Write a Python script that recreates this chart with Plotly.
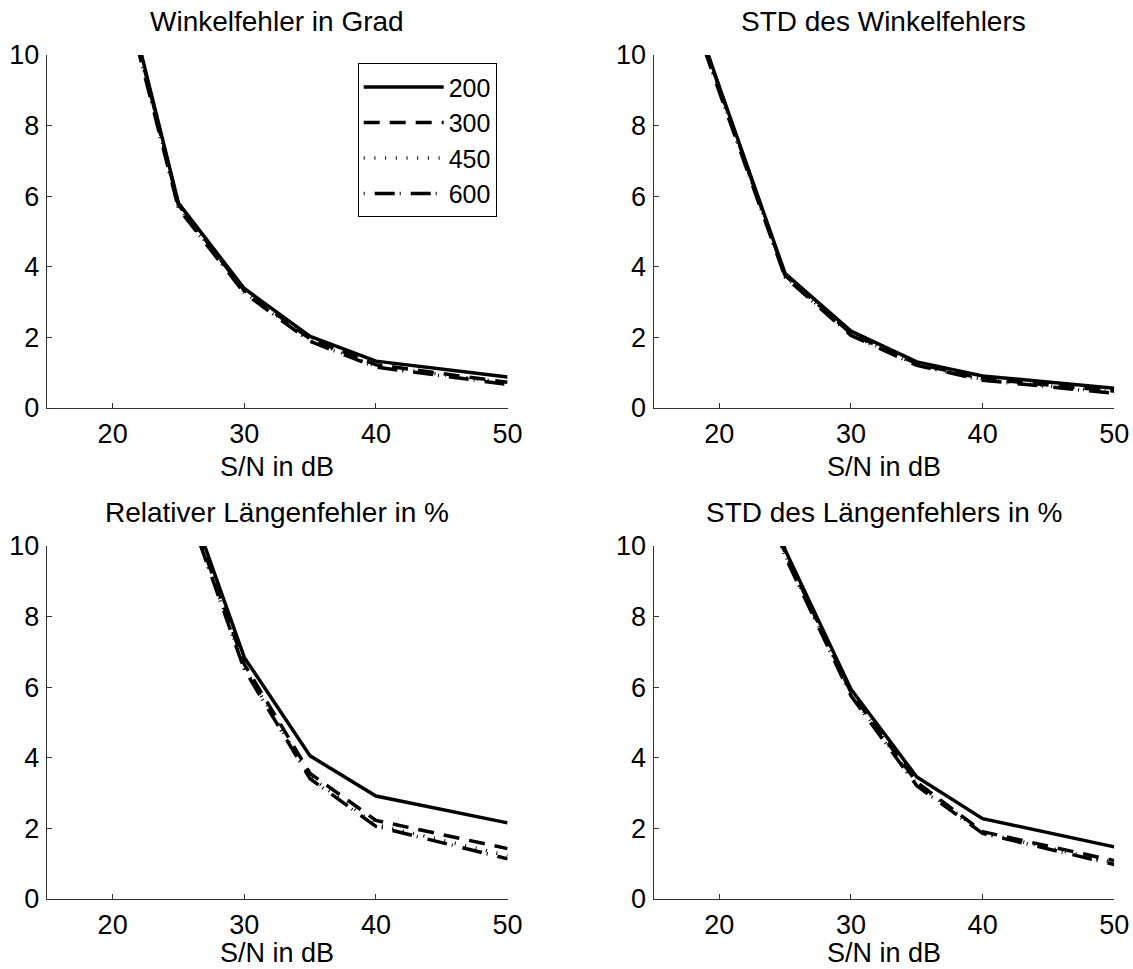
import plotly.graph_objects as go

# ---- data ----
snr = [15, 20, 25, 30, 35, 40, 50]
labels = ["200", "300", "450", "600"]

winkel = {
    "200": [22.0, 13.3, 5.80, 3.38, 2.02, 1.32, 0.87],
    "300": [21.8, 13.2, 5.75, 3.32, 1.95, 1.22, 0.72],
    "450": [21.7, 13.1, 5.70, 3.28, 1.90, 1.18, 0.70],
    "600": [21.6, 13.0, 5.65, 3.25, 1.88, 1.15, 0.66],
}
std_winkel = {
    "200": [14.5, 9.10, 3.80, 2.17, 1.30, 0.90, 0.55],
    "300": [14.4, 9.05, 3.75, 2.10, 1.25, 0.82, 0.47],
    "450": [14.4, 9.00, 3.72, 2.08, 1.22, 0.80, 0.44],
    "600": [14.3, 8.95, 3.70, 2.05, 1.20, 0.78, 0.41],
}
laenge = {
    "200": [28.0, 20.0, 12.1, 6.84, 4.05, 2.91, 2.15],
    "300": [27.5, 19.7, 11.9, 6.65, 3.55, 2.22, 1.42],
    "450": [27.3, 19.5, 11.8, 6.55, 3.45, 2.10, 1.22],
    "600": [27.2, 19.4, 11.8, 6.50, 3.40, 2.05, 1.13],
}
std_laenge = {
    "200": [24.0, 16.0, 9.89, 5.94, 3.45, 2.27, 1.47],
    "300": [23.8, 15.8, 9.80, 5.85, 3.30, 1.90, 1.08],
    "450": [23.7, 15.7, 9.75, 5.80, 3.25, 1.87, 1.02],
    "600": [23.6, 15.6, 9.70, 5.75, 3.20, 1.85, 0.97],
}

titles = ["Winkelfehler in Grad", "STD des Winkelfehlers",
          "Relativer Längenfehler in %", "STD des Längenfehlers in %"]
xlabel = "S/N in dB"
xticks = [20, 30, 40, 50]
yticks = [0, 2, 4, 6, 8, 10]

# ---- styles ----
W, H = 1133, 969
FONT = "Liberation Sans, Arial, Helvetica, sans-serif"
FS_TITLE = 28
FS = 27
dashes = {"200": "solid", "300": "16px,10px", "450": "1px,9.7px", "600": "1px,10px,20px,5px"}
LW = 3.5

xdom = [[46.8 / W, 507.6 / W], [653.5 / W, 1114.3 / W]]
ydom = [[(H - 407.7) / H, (H - 55) / H], [(H - 898.7) / H, (H - 546) / H]]

panels = [(winkel, 0, 0), (std_winkel, 1, 0), (laenge, 0, 1), (std_laenge, 1, 1)]

fig = go.Figure()
layout = dict(
    width=W, height=H, autosize=False,
    margin=dict(l=0, r=0, t=0, b=0, pad=0, autoexpand=False),
    paper_bgcolor="white", plot_bgcolor="white",
    font=dict(family=FONT, size=FS, color="black"),
    showlegend=True,
    legend=dict(x=496.7 / W, y=(H - 63.3) / H, xanchor="right", yanchor="top",
                bordercolor="black", borderwidth=1, bgcolor="white",
                font=dict(family=FONT, size=25, color="black"),
                itemwidth=80, tracegroupgap=0),
)
annotations = []
for i, (data, col, row) in enumerate(panels):
    ax = "" if i == 0 else str(i + 1)
    for name in labels:
        fig.add_trace(go.Scatter(
            x=snr, y=data[name], mode="lines", name=name,
            line=dict(color="black", width=LW, dash=dashes[name]),
            xaxis="x" + ax, yaxis="y" + ax, showlegend=(i == 0),
        ))
    axstyle = dict(showline=True, linecolor="#333333", linewidth=1, ticks="inside",
                   ticklen=5, tickcolor="#333333", showgrid=False, zeroline=False,
                   automargin=False,
                   tickfont=dict(family=FONT, size=FS, color="black"))
    layout["xaxis" + ax] = dict(domain=xdom[col], range=[15, 50], tickvals=xticks,
                                anchor="y" + ax, ticklabelstandoff=2, **axstyle)
    layout["yaxis" + ax] = dict(domain=ydom[row], range=[0, 10], tickvals=yticks,
                                anchor="x" + ax, ticklabelstandoff=1, **axstyle)
    xc = (xdom[col][0] + xdom[col][1]) / 2
    annotations.append(dict(text=titles[i], x=xc, y=ydom[row][1], xref="paper", yref="paper",
                            xanchor="center", yanchor="bottom", yshift=16, showarrow=False,
                            font=dict(family=FONT, size=FS_TITLE, color="black")))
    annotations.append(dict(text=xlabel, x=xc, y=ydom[row][0], xref="paper", yref="paper",
                            xanchor="center", yanchor="top",
                            yshift=(-42 if row == 0 else -37), showarrow=False,
                            font=dict(family=FONT, size=FS, color="black")))
layout["annotations"] = annotations
fig.update_layout(**layout)
fig.write_html("out.html")
